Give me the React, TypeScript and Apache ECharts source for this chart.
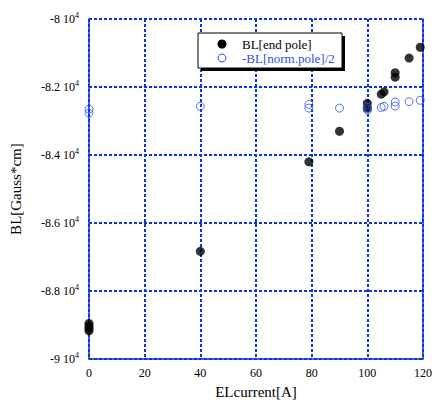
import React, { useEffect, useRef } from "react";
import * as echarts from "echarts";

const xTicks = [0, 20, 40, 60, 80, 100, 120];
const yTicks = [-90000, -88000, -86000, -84000, -82000, -80000];

const endPoleX = [0, 0, 0, 0, 40, 79, 90, 100, 100, 105, 106, 110, 110, 115, 119];
const endPoleY = [-88950, -89030, -89100, -89170, -86830, -84200, -83300, -82480, -82620, -82210, -82140, -81580, -81710, -81150, -80830];

const normPoleX = [0, 0, 40, 79, 79, 90, 100, 100, 100, 105, 106, 110, 110, 115, 119];
const normPoleY = [-82650, -82770, -82570, -82510, -82620, -82620, -82600, -82640, -82680, -82600, -82570, -82440, -82560, -82430, -82390];

const seriesNames = ["BL[end pole]", "-BL[norm.pole]/2"];

const BLUE = "#0a36dc";
const CIRCLE_BLUE = "#2a4ee8";
const FONT = "Liberation Serif";

export default function App() {
  const ref = useRef<HTMLDivElement>(null);
  useEffect(() => {
    if (!ref.current) return;
    const chart = echarts.init(ref.current, null, { renderer: "svg" });
    const gridLine = { show: true, lineStyle: { color: BLUE, width: 2, type: [3, 2] as any } };
    chart.setOption({
      animation: false,
      backgroundColor: "#fff",
      textStyle: { fontFamily: FONT },
      grid: { left: 87, right: 6, top: 19, bottom: 42, containLabel: false },
      xAxis: {
        type: "value",
        min: xTicks[0],
        max: xTicks[xTicks.length - 1],
        interval: 20,
        name: "ELcurrent[A]",
        nameLocation: "middle",
        nameGap: 24,
        nameTextStyle: { fontFamily: FONT, fontSize: 15, color: "#000" },
        axisLine: { show: true, lineStyle: { color: BLUE, width: 1.5 } },
        axisTick: { show: false },
        axisLabel: {
          margin: 8,
          formatter: (v: number) => `{b|${v}}`,
          rich: { b: { fontFamily: FONT, fontSize: 12, color: "#000" } },
          fontFamily: FONT, fontSize: 12, color: "#000",
        },
        splitLine: gridLine,
      },
      yAxis: [
        {
          type: "value",
          min: yTicks[0],
          max: yTicks[yTicks.length - 1],
          interval: 2000,
          name: "BL[Gauss*cm]",
          nameLocation: "middle",
          nameGap: 66,
          nameTextStyle: { fontFamily: FONT, fontSize: 15, color: "#000" },
          axisLine: { show: true, lineStyle: { color: BLUE, width: 1.5 } },
          axisTick: { show: false },
          axisLabel: {
            margin: 10,
            formatter: (v: number) => `{b|${v / 10000} 10}{sup|4}`,
            rich: {
              b: { fontFamily: FONT, fontSize: 12, color: "#000" },
              sup: { fontFamily: FONT, fontSize: 8, color: "#000", verticalAlign: "bottom", padding: [0, 0, 7, 0] },
            },
            fontFamily: FONT,
            fontSize: 12,
            color: "#000",
          },
          splitLine: gridLine,
        },
        {
          type: "value",
          position: "right",
          min: yTicks[0],
          max: yTicks[yTicks.length - 1],
          interval: 2000,
          axisLine: { show: true, onZero: false, lineStyle: { color: BLUE, width: 1.5 } },
          axisTick: { show: false },
          axisLabel: { show: false },
          splitLine: { show: false },
        },
      ],
      series: [
        {
          name: seriesNames[0],
          type: "scatter",
          clip: false,
          symbol: "circle",
          symbolSize: 9,
          itemStyle: { color: "#000" },
          data: endPoleX.map((x, i) => [x, endPoleY[i]]),
          z: 3,
        },
        {
          name: seriesNames[1],
          type: "scatter",
          clip: false,
          symbol: "circle",
          symbolSize: 8,
          itemStyle: { color: "rgba(255,255,255,0)", borderColor: CIRCLE_BLUE, borderWidth: 1 },
          data: normPoleX.map((x, i) => [x, normPoleY[i]]),
          z: 4,
        },
      ],
      graphic: [
        { type: "rect", shape: { x: 201, y: 36, width: 144, height: 35 }, style: { fill: "#000" }, z: 10 },
        { type: "rect", shape: { x: 198, y: 33, width: 144, height: 35 }, style: { fill: "#fff", stroke: "#000", lineWidth: 1 }, z: 11 },
        { type: "circle", shape: { cx: 222, cy: 44, r: 4.5 }, style: { fill: "#000" }, z: 12 },
        { type: "circle", shape: { cx: 222, cy: 58, r: 4 }, style: { fill: "#fff", stroke: CIRCLE_BLUE, lineWidth: 1 }, z: 12 },
        {
          type: "text", x: 242, y: 44, z: 12,
          style: { text: seriesNames[0], fontFamily: FONT, fontSize: 13, lineHeight: 13, fill: "#000", verticalAlign: "middle" },
        },
        {
          type: "text", x: 242, y: 58, z: 12,
          style: { text: seriesNames[1], fontFamily: FONT, fontSize: 13, lineHeight: 13, fill: CIRCLE_BLUE, verticalAlign: "middle" },
        },
      ],
    });
    return () => chart.dispose();
  }, []);
  return <div ref={ref} style={{ width: 435, height: 404, position: "absolute", left: 0, top: 0 }} />;
}
